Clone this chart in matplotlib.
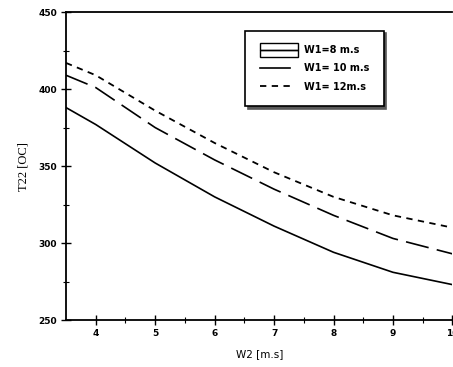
import matplotlib.pyplot as plt
from matplotlib.patches import Rectangle
from matplotlib.legend_handler import HandlerBase
from matplotlib.lines import Line2D

# Values
w2 = [3.5, 4, 5, 6, 7, 8, 9, 10]
t_low = [388, 377, 352, 330, 311, 294, 281, 273]
t_mid = [409, 401, 375, 354, 335, 318, 303, 293]
t_high = [417, 409, 386, 365, 346, 330, 318, 310]
labels = ["W1=8 m.s", "W1= 10 m.s", "W1= 12m.s"]


class DoubleBox(HandlerBase):
    """Legend marker drawn as two stacked open boxes, as in the scan."""
    def create_artists(self, legend, orig, x0, y0, width, height, fontsize, trans):
        h = height * 1.05
        w = width * 1.25
        r1 = Rectangle((x0, y0 + height / 2), w, h, fill=False, lw=1.0,
                       edgecolor="black", transform=trans)
        r2 = Rectangle((x0, y0 + height / 2 - h), w, h, fill=False, lw=1.0,
                       edgecolor="black", transform=trans)
        return [r1, r2]


fig = plt.figure(figsize=(4.53, 3.67), dpi=100)
ax = fig.add_axes([0.1457, 0.128, 0.853, 0.839])

ax.plot(w2, t_low, color="black", lw=1.2)
ax.plot(w2, t_mid, color="black", lw=1.2, dashes=(14, 5))
ax.plot(w2, t_high, color="black", lw=1.3, dashes=(3.5, 3))

ax.set_xlim(3.5, 10)
ax.set_ylim(250, 450)
ax.set_xticks([4, 5, 6, 7, 8, 9, 10])
ax.set_xticks([4.5, 5.5, 6.5, 7.5, 8.5, 9.5], minor=True)
ax.set_yticks([250, 300, 350, 400, 450])
ax.set_yticks([275, 325, 375, 425], minor=True)
ax.tick_params(which="major", direction="inout", length=7, width=1.0,
               labelsize=6.5, pad=3)
ax.tick_params(which="minor", direction="inout", length=4, width=0.8)
for t in ax.get_xticklabels() + ax.get_yticklabels():
    t.set_fontweight("bold")
for s in ax.spines.values():
    s.set_linewidth(1.3)
ax.spines["right"].set_visible(False)

ax.set_xlabel("W2 [m.s]", fontsize=7.5, labelpad=8)
ax.set_ylabel("T22 [OC]", fontsize=9, family="Liberation Serif", labelpad=6)

handles = [Line2D([], [], color="black"),
           Line2D([], [], color="black", lw=1.2),
           Line2D([], [], color="black", lw=1.3, dashes=(3.5, 3))]
leg = ax.legend(handles, labels, loc="upper left", bbox_to_anchor=(0.464, 0.94),
                frameon=True, fancybox=False, shadow={"color": "0.35", "alpha": 1},
                edgecolor="black", fontsize=7, handlelength=3.1, handletextpad=1.4,
                borderpad=1.5, labelspacing=0.85, borderaxespad=0,
                handler_map={handles[0]: DoubleBox()})
leg.get_frame().set_linewidth(1.2)
for t in leg.get_texts():
    t.set_fontweight("bold")

fig.savefig("out.png", dpi=100)
